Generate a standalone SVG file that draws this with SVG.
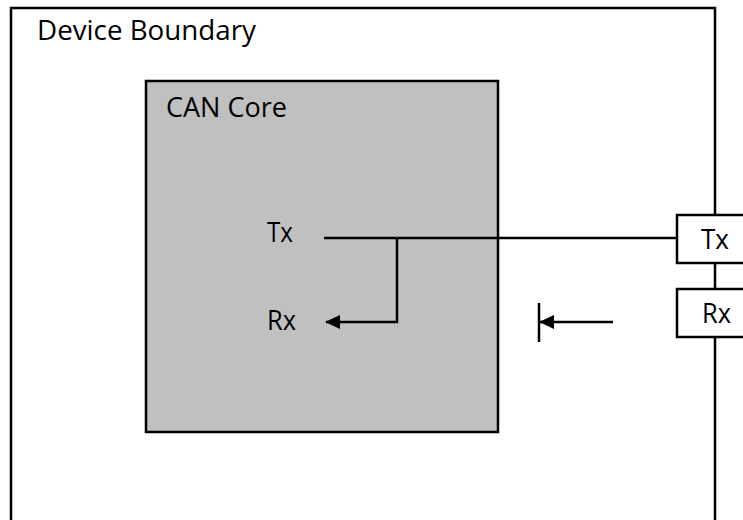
<svg xmlns="http://www.w3.org/2000/svg" width="743" height="520" viewBox="0 0 743 520">
<style>
.box{stroke:#000;stroke-width:2.5;fill:#fff}
.core{stroke:#000;stroke-width:2.5;fill:#c0c0c0}
.lbl{font-family:"Open Sans","Liberation Sans",sans-serif;font-size:27px;fill:#000}
.wire{stroke:#000;stroke-width:2.5;fill:none}
</style>
<defs>
<marker id="ah" markerWidth="15" markerHeight="14" refX="14" refY="7" orient="auto" markerUnits="userSpaceOnUse">
<path d="M0,0 L15,7 L0,14 Z" fill="#000"/>
</marker>
</defs>
<rect width="743" height="520" fill="#fff"/>
<g id="device-boundary">
<rect class="box" x="11" y="8" width="704" height="530"/>
<text class="lbl" x="37" y="40" textLength="219" lengthAdjust="spacingAndGlyphs">Device Boundary</text>
</g>
<g id="can-core">
<rect class="core" x="146" y="81" width="352" height="351"/>
<text class="lbl" x="166" y="117" textLength="121" lengthAdjust="spacingAndGlyphs">CAN Core</text>
<text class="lbl" x="267" y="242" textLength="26" lengthAdjust="spacingAndGlyphs">Tx</text>
<text class="lbl" x="267" y="330" textLength="29" lengthAdjust="spacingAndGlyphs">Rx</text>
</g>
<g id="connectors">
<path class="wire" d="M324,238 H677"/>
<path class="wire" d="M397,238 V322 H326" marker-end="url(#ah)"/>
<path class="wire" d="M613,322 H540" marker-end="url(#ah)"/>
<path class="wire" d="M539,303 V342"/>
</g>
<g id="pin-tx">
<rect class="box" x="677" y="215" width="80" height="48"/>
<text class="lbl" x="701" y="249" textLength="28" lengthAdjust="spacingAndGlyphs">Tx</text>
</g>
<g id="pin-rx">
<rect class="box" x="677" y="289" width="80" height="48"/>
<text class="lbl" x="702" y="323" textLength="29" lengthAdjust="spacingAndGlyphs">Rx</text>
</g>
</svg>
